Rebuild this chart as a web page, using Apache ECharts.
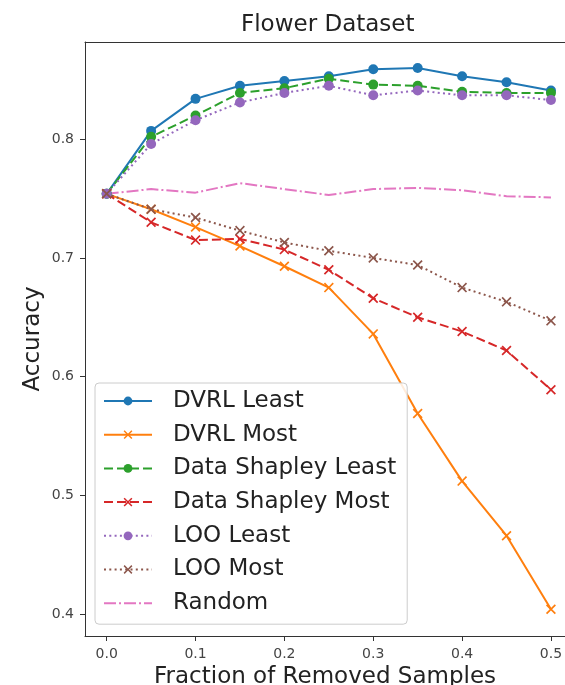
<!DOCTYPE html>
<html>
<head>
<meta charset="utf-8">
<script src="https://cdn.jsdelivr.net/npm/echarts@6/dist/echarts.min.js"></script>
<style>
  html, body { margin: 0; padding: 0; background: #fff; }
  #chart { width: 565px; height: 685px; }
</style>
</head>
<body>
<div id="chart"></div>
<script>
// ---- data ----
const fractions = [0, 0.05, 0.1, 0.15, 0.2, 0.25, 0.3, 0.35, 0.4, 0.45, 0.5];
const dvrlLeast = [0.754, 0.807, 0.834, 0.845, 0.849, 0.853, 0.859, 0.860, 0.853, 0.848, 0.841];
const dvrlMost = [0.754, 0.741, 0.726, 0.710, 0.693, 0.675, 0.636, 0.569, 0.512, 0.466, 0.404];
const dsLeast = [0.754, 0.802, 0.820, 0.839, 0.843, 0.851, 0.846, 0.845, 0.840, 0.839, 0.839];
const dsMost = [0.754, 0.730, 0.715, 0.716, 0.707, 0.690, 0.666, 0.650, 0.638, 0.622, 0.589];
const looLeast = [0.754, 0.796, 0.816, 0.831, 0.839, 0.845, 0.837, 0.841, 0.837, 0.837, 0.833];
const looMost = [0.754, 0.741, 0.734, 0.723, 0.713, 0.706, 0.700, 0.694, 0.675, 0.663, 0.647];
const randomVals = [0.754, 0.758, 0.755, 0.763, 0.758, 0.753, 0.758, 0.759, 0.757, 0.752, 0.751];
const xTicks = [0, 0.1, 0.2, 0.3, 0.4, 0.5];
const yTicks = [0.4, 0.5, 0.6, 0.7, 0.8];
const seriesNames = ['DVRL Least', 'DVRL Most', 'Data Shapley Least', 'Data Shapley Most', 'LOO Least', 'LOO Most', 'Random'];

// ---- styling ----
const FONT = 'DejaVu Sans';
const X_SYMBOL = 'path://M0,1.2L1.2,0L5,3.8L8.8,0L10,1.2L6.2,5L10,8.8L8.8,10L5,6.2L1.2,10L0,8.8L3.8,5Z';
const X_MIN = -0.0244, X_MAX = 0.5158;
const pair = (vals) => fractions.map((x, i) => [x, vals[i]]);

function mkSeries(name, vals, color, lineType, symbol) {
  return {
    name: name,
    type: 'line',
    data: pair(vals),
    symbol: symbol || 'circle',
    symbolSize: 10,
    showSymbol: !!symbol,
    lineStyle: { color: color, width: 2, type: lineType },
    itemStyle: { color: color, opacity: 1 },
    emphasis: { disabled: true },
    animation: false,
    z: 2
  };
}

const option = {
  animation: false,
  backgroundColor: '#fff',
  title: {
    text: 'Flower Dataset',
    left: 241,
    top: 14,
    padding: 0,
    textStyle: { fontFamily: FONT, fontSize: 23, fontWeight: 'normal', color: '#222' }
  },
  grid: { left: 85, top: 42, right: 0, bottom: 49, show: false, outerBoundsMode: 'none', containLabel: false },
  legend: {
    orient: 'vertical',
    left: 95, top: 383,
    itemWidth: 48, itemHeight: 11, itemGap: 7.7,
    padding: [5, 11, 8, 8],
    backgroundColor: 'rgba(255,255,255,0.85)',
    borderColor: '#ccc', borderWidth: 1, borderRadius: 4,
    textStyle: { fontFamily: FONT, fontSize: 23, color: '#222', lineHeight: 26, padding: [0, 0, 0, 16] },
    data: seriesNames.map(n => n === 'Random'
      ? { name: n, itemStyle: { opacity: 0 } }
      : { name: n }),
    z: 10
  },
  xAxis: [{
    type: 'value', min: X_MIN, max: X_MAX,
    name: 'Fraction of Removed Samples',
    nameLocation: 'middle', nameGap: 30, nameMoveOverlap: false,
    nameTextStyle: { fontFamily: FONT, fontSize: 23, color: '#222' },
    axisLine: { show: true, onZero: false, lineStyle: { color: '#333', width: 1 } },
    axisTick: { show: true, length: 5, lineStyle: { color: '#333' }, customValues: xTicks },
    axisLabel: { fontFamily: FONT, fontSize: 14, color: '#444', margin: 11, customValues: xTicks,
                 formatter: v => v.toFixed(1) },
    splitLine: { show: false }
  }, {
    type: 'value', position: 'top', min: X_MIN, max: X_MAX,
    axisLine: { show: true, onZero: false, lineStyle: { color: '#333', width: 1 } },
    axisTick: { show: false }, axisLabel: { show: false }, splitLine: { show: false }
  }],
  yAxis: {
    type: 'value', min: 0.3815, max: 0.8819,
    name: 'Accuracy',
    nameLocation: 'middle', nameGap: 40, nameRotate: 90, nameMoveOverlap: false,
    nameTextStyle: { fontFamily: FONT, fontSize: 23, color: '#222' },
    axisLine: { show: true, onZero: false, lineStyle: { color: '#333', width: 1 } },
    axisTick: { show: true, length: 5, lineStyle: { color: '#333' }, customValues: yTicks },
    axisLabel: { fontFamily: FONT, fontSize: 14, color: '#444', margin: 11, customValues: yTicks,
                 formatter: v => v.toFixed(1) },
    splitLine: { show: false }
  },
  series: [
    mkSeries('DVRL Least', dvrlLeast, '#1f77b4', 'solid', 'circle'),
    mkSeries('DVRL Most', dvrlMost, '#ff7f0e', 'solid', X_SYMBOL),
    mkSeries('Data Shapley Least', dsLeast, '#2ca02c', [9, 4], 'circle'),
    mkSeries('Data Shapley Most', dsMost, '#d62728', [9, 4], X_SYMBOL),
    mkSeries('LOO Least', looLeast, '#9467bd', [2, 3.3], 'circle'),
    mkSeries('LOO Most', looMost, '#8c564b', [2, 3.3], X_SYMBOL),
    mkSeries('Random', randomVals, '#e377c2', [12, 3, 2, 3], null)
  ]
};

const chart = echarts.init(document.getElementById('chart'), null, { renderer: 'canvas' });
chart.setOption(option);
</script>
</body>
</html>
